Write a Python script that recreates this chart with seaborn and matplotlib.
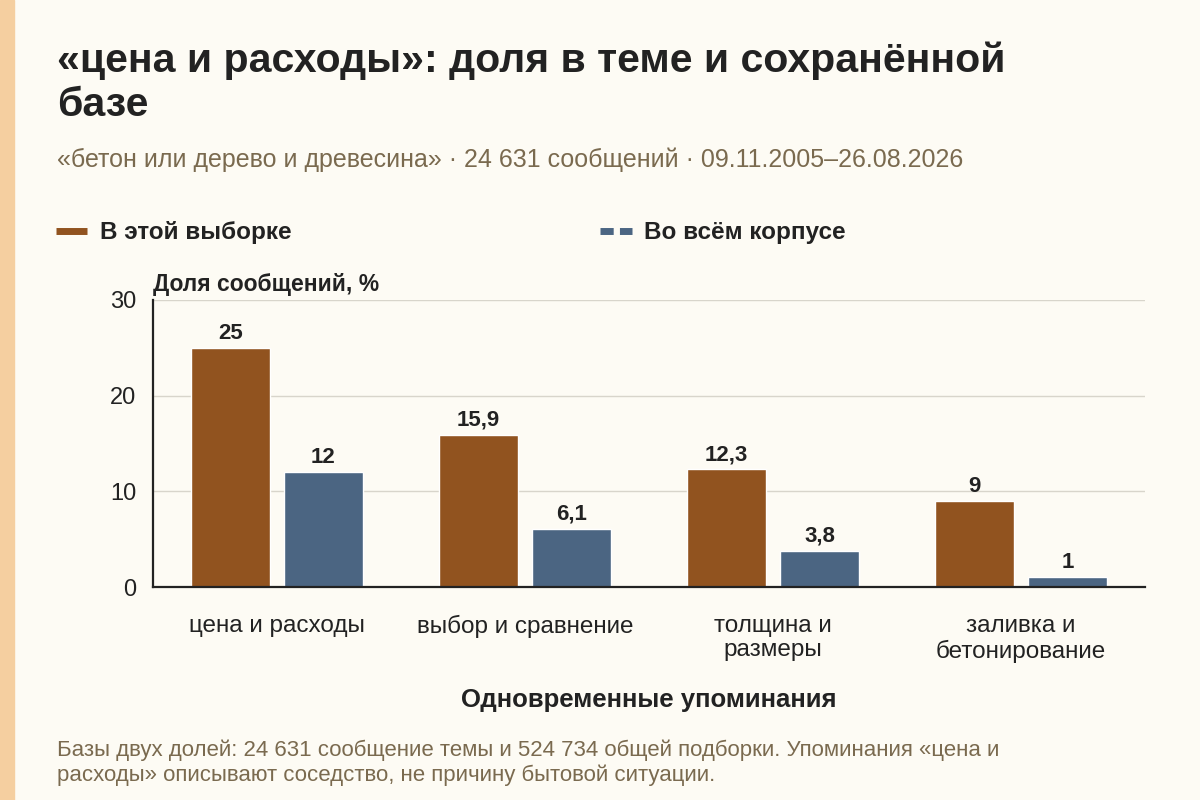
import matplotlib
matplotlib.use("Agg")
import matplotlib.pyplot as plt
import seaborn as sns
import pandas as pd
from matplotlib.lines import Line2D
from matplotlib.patches import Rectangle

# Data
categories = ["цена и расходы", "выбор и сравнение", "толщина и\nразмеры", "заливка и\nбетонирование"]
series = ["В этой выборке", "Во всём корпусе"]
sample_share = [25, 15.9, 12.3, 9]
corpus_share = [12, 6.1, 3.8, 1]
y_ticks = [0, 10, 20, 30]

BG = "#FDFBF4"
BROWN = "#91531F"
BLUE = "#4B6582"
INK = "#222222"
OLIVE = "#7A6A4F"

sns.set_theme(style="white")
plt.rcParams["font.family"] = ["Liberation Sans", "DejaVu Sans"]

df = pd.DataFrame({
    "category": categories * 2,
    "series": [series[0]] * 4 + [series[1]] * 4,
    "value": sample_share + corpus_share,
})

fig = plt.figure(figsize=(12, 8), dpi=100, facecolor=BG)
ax = fig.add_axes([153 / 1200, 1 - 587 / 800, (1145 - 153) / 1200, (587 - 300) / 800])
ax.set_facecolor(BG)

sns.barplot(data=df, x="category", y="value", hue="series", hue_order=series,
            palette=[BROWN, BLUE], width=0.75, gap=0.16, saturation=1,
            legend=False, ax=ax, zorder=2)

ax.set_ylim(0, 30)
ax.set_xlim(-0.5, 3.5)
ax.set_yticks(y_ticks)
ax.yaxis.grid(True, color="#D8D5CB", linewidth=1, zorder=0)
ax.set_axisbelow(True)
for side in ["top", "right"]:
    ax.spines[side].set_visible(False)
for side in ["left", "bottom"]:
    ax.spines[side].set_color(INK)
    ax.spines[side].set_linewidth(1.6)
ax.tick_params(axis="y", length=0, labelsize=17, labelcolor=INK, pad=12)
ax.tick_params(axis="x", length=4, width=1, color=INK, labelsize=17.5, labelcolor=INK, pad=16)
for lbl in ax.get_xticklabels():
    lbl.set_linespacing(1.15)
ax.set_xlabel("")
ax.set_ylabel("")

# value labels
def fmt(v):
    return f"{v:g}".replace(".", ",")

for cont in ax.containers:
    vals = [b.get_height() for b in cont]
    ax.bar_label(cont, labels=[fmt(v) for v in vals], padding=3,
                 fontsize=16, fontweight="bold", color=INK)

# left stripe
fig.add_artist(Rectangle((0, 0), 14 / 1200, 1, transform=fig.transFigure,
                         color="#F5CFA0", zorder=0))

# texts
fig.text(57 / 1200, 1 - 41 / 800, "«цена и расходы»: доля в теме и сохранённой\nбазе",
         fontsize=29.5, fontweight="bold", color=INK, va="top", linespacing=1.22)
fig.text(57 / 1200, 1 - 160 / 800,
         "«бетон или дерево и древесина» · 24 631 сообщений · 09.11.2005–26.08.2026",
         fontsize=18, color=OLIVE, va="center")
fig.text(153 / 1200, 1 - 284 / 800, "Доля сообщений, %", fontsize=16.5,
         fontweight="bold", color=INK, va="center")
fig.text(649 / 1200, 1 - 700 / 800, "Одновременные упоминания", fontsize=18.5,
         fontweight="bold", color=INK, ha="center", va="center")
fig.text(57 / 1200, 1 - 763 / 800,
         "Базы двух долей: 24 631 сообщение темы и 524 734 общей подборки. Упоминания «цена и\n"
         "расходы» описывают соседство, не причину бытовой ситуации.",
         fontsize=16, color=OLIVE, va="center", linespacing=1.2)

# legend
handles = [
    Line2D([], [], color=BROWN, linewidth=5, solid_capstyle="butt"),
    Line2D([], [], color=BLUE, linewidth=5, linestyle=(0, (1.9, 0.9)), dash_capstyle="butt"),
]
fig.legend(handles, series, loc="center left", bbox_to_anchor=(34 / 1200, 1 - 233 / 800),
           ncol=2, frameon=False, handlelength=1.3, handletextpad=0.5,
           columnspacing=12.7, prop={"weight": "bold", "size": 17.5}, labelcolor=INK)

fig.savefig("out.png", dpi=100, facecolor=BG)
